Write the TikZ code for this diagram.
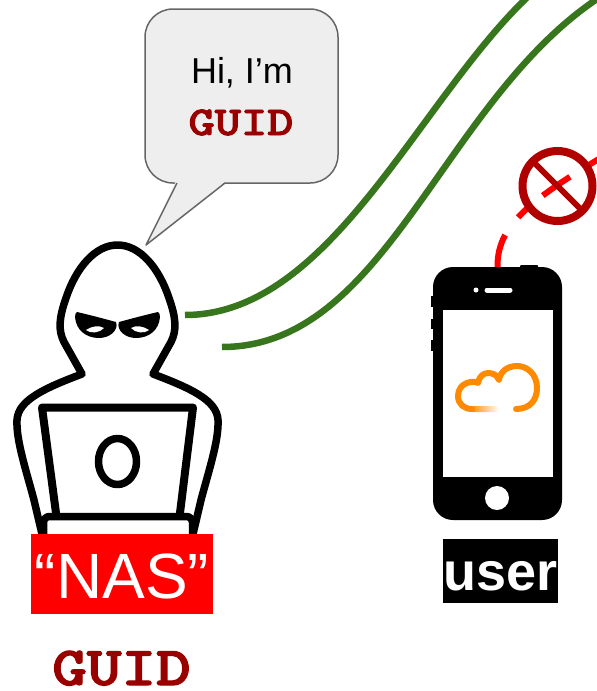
\documentclass[tikz,border=0pt]{standalone}
\usepackage{fontspec}
\usepackage{graphicx}
\newfontfamily\arialfont{Liberation Sans}
\newfontfamily\guidfont{lmmonolt10-bold.otf}[FakeBold=2]

\definecolor{guidred}{HTML}{990000}
\definecolor{linkgreen}{HTML}{38761D}
\definecolor{nored}{HTML}{B00000}
\definecolor{cloudorange}{HTML}{FF8A00}
\definecolor{bubblefill}{HTML}{EEEEEE}
\definecolor{bubbleline}{HTML}{666666}

\tikzstyle{greenlink}=[
    line width=6.5pt,
    draw=linkgreen
]
\tikzstyle{blocked}=[
    line width=6pt,
    draw=red,
    dash pattern=on 33pt off 22pt on 15pt off 18pt
]
\tikzstyle{hoodline}=[
    line width=7.5pt,
    draw=black,
    line join=round,
    line cap=round
]
\tikzstyle{bubble}=[
    rectangle,
    rounded corners=28pt,
    line width=1.5pt,
    draw=bubbleline,
    fill=bubblefill,
    inner sep=0pt,
    minimum width=193pt,
    minimum height=174pt
]
\tikzstyle{tag}=[
    rectangle,
    inner sep=0pt,
    text=white
]
\tikzstyle{guidtext}=[
    anchor=base,
    text=guidred,
    inner sep=0pt,
    text depth=0pt
]
\tikzset{
    hoodeye/.pic={
        \fill[black] (77,312) .. controls (90,315) and (105,319) .. (116,322)
            .. controls (119,330) and (110,338) .. (99,338)
            .. controls (86,338) and (76,330) .. (75,317)
            .. controls (75,314) and (76,312) .. (77,312);
        \fill[white] (86,330) .. controls (92,326) and (99,325) .. (104,328)
            .. controls (100,333) and (90,334) .. (86,330);
    }
}

\begin{document}
\begin{tikzpicture}[x=1pt,y=-1pt,>=latex]
    \useasboundingbox (0,0) rectangle (597,691);

    % GREEN LINKS
    \coordinate (link_a_in) at (185,315);
    \coordinate (link_a_out) at (575,-40);
    \coordinate (link_b_in) at (222,347);
    \coordinate (link_b_out) at (640,-25);
    \draw[greenlink] (link_a_in) .. controls (350,315) and (440,40) .. (link_a_out);
    \draw[greenlink] (link_b_in) .. controls (400,347) and (450,60) .. (link_b_out);

    % SPEECH BUBBLE
    \node (bubble) [bubble] at (241.5,96) {};
    \fill[bubblefill] (176,181) -- (146,245) -- (226,181) -- cycle;
    \draw[bubbleline, line width=1.5pt, line join=round] (177,183) -- (146,245) -- (225,183);
    \node (hi_txt) [anchor=base, inner sep=0pt, font=\arialfont\fontsize{36}{40}\selectfont] at (242,83) {Hi, I’m};
    \node (guid_said) [guidtext, font=\guidfont\fontsize{41}{44}\selectfont] at (241,135) {\scalebox{1.22}[1]{GUID}};

    % HACKER
    \draw[hoodline] (42,534) -- (34,500) .. controls (26,470) and (16,440) .. (17,420)
        .. controls (18,400) and (45,388) .. (82,374)
        -- (64,342) .. controls (58,330) and (59,318) .. (66,298)
        .. controls (76,268) and (95,245) .. (117.5,245)
        .. controls (140,245) and (159,268) .. (169,298)
        .. controls (176,318) and (177,330) .. (171,342)
        -- (153,374) .. controls (190,388) and (217,400) .. (218,420)
        .. controls (219,440) and (209,470) .. (201,500) -- (193,534);
    \pic at (0,0) {hoodeye};
    \pic[xscale=-1] at (235,0) {hoodeye};
    % laptop
    \draw[hoodline, line width=8pt] (56,513) -- (42,407.5) -- (193,407.5) -- (180,513);
    \draw[hoodline, rounded corners=6pt] (43.5,545) -- (43.5,516.5) -- (192.5,516.5) -- (192.5,545);
    \draw[hoodline] (117.5,461.5) ellipse (19 and 23);

    % BLOCKED LINK
    \coordinate (blocked_out) at (640,135);
    \node (phone) [rectangle, rounded corners=20pt, fill=black, inner sep=0pt,
        minimum width=129pt, minimum height=253pt] at (497.5,393.5) {};
    \draw[blocked] (phone.north) .. controls (497,222) and (535,195) .. (blocked_out);
    \node (no_sign) [circle, draw=nored, line width=8pt, inner sep=0pt, outer sep=0pt,
        minimum size=70pt] at (557.5,186) {};
    \draw[nored, line width=6pt] (no_sign.north west) -- (no_sign.south east);

    % PHONE
    \fill[black] (430.5,296) rectangle (434,307);
    \fill[black] (430.5,319) rectangle (434,329);
    \fill[black] (430.5,340) rectangle (434,351);
    \fill[black, rounded corners=1pt] (520,265) rectangle (538,271);
    \node (screen) [rectangle, fill=white, inner sep=0pt,
        minimum width=110pt, minimum height=167pt] at (498,393.5) {};
    \node (home_btn) [circle, fill=white, inner sep=0pt, minimum size=24pt] at (497,498) {};
    \draw[white, line width=5pt, line cap=round] (487,290) -- (510,290);
    \fill[white] (476,290) circle (2.5);

    % CLOUD
    \shade[left color=cloudorange, right color=white, rounded corners=3pt] (470,406) rectangle (499,412);
    \draw[cloudorange, line width=6pt, line cap=round, line join=round]
        (516,409) .. controls (530,409) and (537,400) .. (537,388)
        .. controls (537,374) and (527,366) .. (517,366)
        .. controls (507,366) and (500,372) .. (499,380)
        .. controls (497,375) and (493,373) .. (488,373)
        .. controls (483,373) and (479,377) .. (478,383)
        .. controls (474,380) and (458,382) .. (458,396)
        .. controls (458,404) and (464,409) .. (472,409);

    % LABELS
    \node (nas_tag) [tag, fill=red, minimum width=182pt, text height=64pt, text depth=16pt,
        font=\arialfont\fontsize{64}{70}\selectfont] at (122,574) {“NAS”};
    \node (user_tag) [tag, fill=black, minimum width=113pt, text height=51pt, text depth=13pt,
        font=\arialfont\bfseries\fontsize{54}{60}\selectfont] at (500.5,571) {user};
    \node (guid_tag) [guidtext, font=\guidfont\fontsize{55}{60}\selectfont] at (121.5,685) {\scalebox{1.2}[1]{GUID}};
\end{tikzpicture}
\end{document}
